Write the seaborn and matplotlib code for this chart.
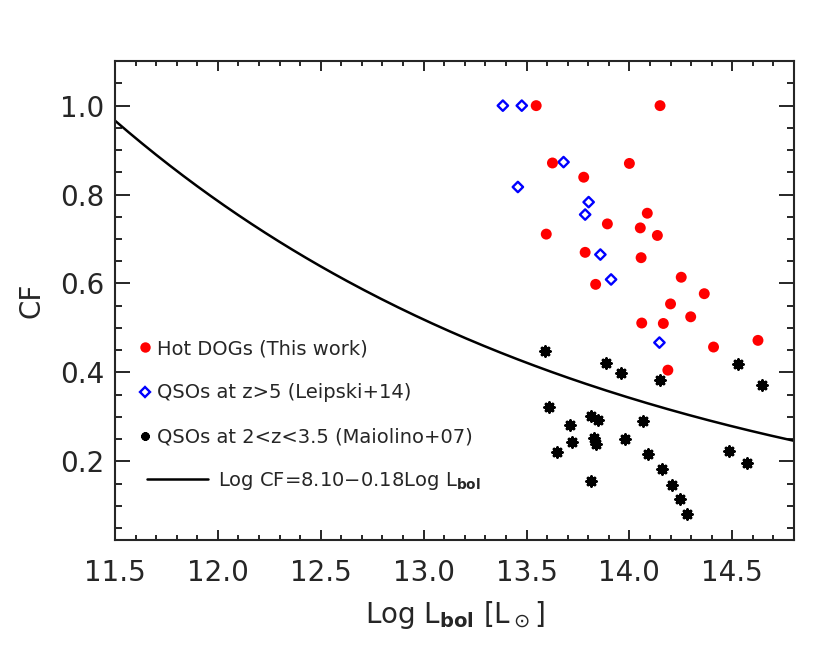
import numpy as np
import matplotlib
matplotlib.use('Agg')
import matplotlib.pyplot as plt
import seaborn as sns
from matplotlib.lines import Line2D
from matplotlib.ticker import MultipleLocator

# Hot DOGs (this work)
hd_lbol = [13.547, 14.149, 13.626, 14.00, 13.778, 14.087, 13.893, 14.053, 14.136, 13.596,
           13.785, 14.057, 14.252, 13.836, 14.364, 14.20, 14.298, 14.06, 14.165, 14.625,
           14.409, 14.187]
hd_cf = [1.0, 1.0, 0.871, 0.870, 0.839, 0.758, 0.734, 0.725, 0.708, 0.711,
         0.670, 0.658, 0.614, 0.598, 0.577, 0.554, 0.525, 0.511, 0.510, 0.472,
         0.457, 0.405]

# QSOs at z>5 (Leipski+14)
lq_lbol = [13.385, 13.477, 13.68, 13.458, 13.802, 13.785, 13.859, 13.911, 14.146]
lq_cf = [1.0, 1.0, 0.873, 0.817, 0.783, 0.755, 0.665, 0.609, 0.467]

# QSOs at 2<z<3.5 (Maiolino+07)
mq_lbol = [13.591, 13.888, 13.96, 14.147, 14.526, 14.646, 13.61, 13.811, 13.848, 13.709,
           14.068, 13.72, 13.83, 13.837, 13.979, 13.649, 14.089, 14.485, 14.574, 14.159,
           14.206, 14.246, 14.278, 13.811]
mq_cf = [0.449, 0.422, 0.399, 0.383, 0.419, 0.372, 0.321, 0.302, 0.292, 0.282,
         0.291, 0.244, 0.252, 0.239, 0.251, 0.220, 0.216, 0.224, 0.197, 0.182,
         0.147, 0.116, 0.082, 0.155]

# relation: Log CF = 8.10 - 0.18 Log Lbol (Lbol in erg/s)
fit_a, fit_b = 8.10, 0.18
log_lsun = 33.583
fit_x = np.linspace(11.5, 14.8, 200)
fit_y = 10 ** (fit_a - fit_b * (fit_x + log_lsun))

sns.set_style('ticks')
plt.rcParams['font.family'] = ['DejaVu Sans']
plt.rcParams['mathtext.fontset'] = 'dejavusans'

fig = plt.figure(figsize=(8.3, 6.65), dpi=100)
ax = fig.add_axes([0.1386, 0.188, 0.818, 0.720])

sns.lineplot(x=fit_x, y=fit_y, color='black', linewidth=1.8, ax=ax)
sns.scatterplot(x=mq_lbol, y=mq_cf, marker=(8, 2, 0), s=45, color='black',
                linewidth=2.2, edgecolor='black', ax=ax)
sns.scatterplot(x=lq_lbol, y=lq_cf, marker='D', s=28, facecolor='none',
                edgecolor='blue', linewidth=1.7, ax=ax)
sns.scatterplot(x=hd_lbol, y=hd_cf, marker='o', s=62, color='red',
                edgecolor='none', ax=ax)

ax.set_xlim(11.5, 14.8)
ax.set_ylim(0.023, 1.1)
ax.xaxis.set_major_locator(MultipleLocator(0.5))
ax.xaxis.set_minor_locator(MultipleLocator(0.1))
ax.yaxis.set_major_locator(MultipleLocator(0.2))
ax.yaxis.set_minor_locator(MultipleLocator(0.05))
ax.xaxis.set_major_formatter(matplotlib.ticker.FormatStrFormatter('%.1f'))
ax.yaxis.set_major_formatter(matplotlib.ticker.FormatStrFormatter('%.1f'))

ax.tick_params(axis='both', which='both', direction='in', top=True, right=True,
               width=1.4, labelsize=20)
ax.tick_params(axis='x', which='major', length=7.5, pad=14)
ax.tick_params(axis='x', which='minor', length=3.8)
ax.tick_params(axis='y', which='major', length=10.5, pad=8)
ax.tick_params(axis='y', which='minor', length=5.3)
for sp in ax.spines.values():
    sp.set_linewidth(1.5)
    sp.set_visible(True)

ax.set_xlabel(r'Log L$_{\mathbf{bol}}$ [L$_\odot$]', fontsize=20, labelpad=8)
ax.set_ylabel('CF', fontsize=20, labelpad=10)

marker_handles = [
    Line2D([], [], marker='o', color='red', linestyle='none', markersize=7.5,
           markeredgecolor='none', label='Hot DOGs (This work)'),
    Line2D([], [], marker='D', color='blue', linestyle='none', markersize=5.2,
           markerfacecolor='none', markeredgewidth=1.7, label='QSOs at z>5 (Leipski+14)'),
    Line2D([], [], marker=(8, 2, 0), color='black', linestyle='none', markersize=6,
           markeredgewidth=2, label='QSOs at 2<z<3.5 (Maiolino+07)'),
]
leg1 = ax.legend(handles=marker_handles, loc='center left', bbox_to_anchor=(0.036, 0.307),
                 frameon=False, fontsize=14, handlelength=0.6, handletextpad=0.3,
                 labelspacing=1.3, borderpad=0, borderaxespad=0)
ax.add_artist(leg1)
line_handle = [Line2D([], [], color='black', linewidth=1.8,
                      label=r'Log CF=8.10$-$0.18Log L$_{\mathbf{bol}}$')]
ax.legend(handles=line_handle, loc='center left', bbox_to_anchor=(0.047, 0.123),
          frameon=False, fontsize=14, handlelength=3.14, handletextpad=0.5,
          borderpad=0, borderaxespad=0)

fig.savefig('out.png', dpi=100)
